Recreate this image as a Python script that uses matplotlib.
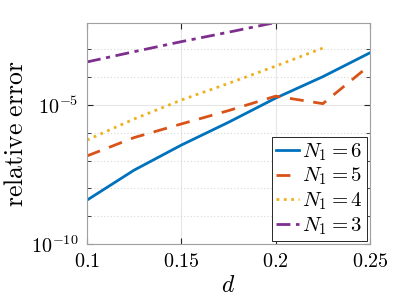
import numpy as np
import matplotlib.pyplot as plt
from matplotlib.ticker import FixedLocator, FuncFormatter, NullFormatter

plt.rcParams['mathtext.fontset'] = 'cm'
plt.rcParams['font.family'] = 'serif'
plt.rcParams['font.serif'] = ['DejaVu Serif']

# data
d = [0.1, 0.125, 0.15, 0.175, 0.2, 0.225, 0.25]
err_n6 = [10**-8.42, 10**-7.34, 10**-6.44, 10**-5.62, 10**-4.75, 10**-3.98, 10**-3.12]
err_n5 = [10**-6.83, 10**-6.17, 10**-5.68, 10**-5.2, 10**-4.68, 10**-4.95, 10**-3.56]
err_n4 = [10**-6.26, 10**-5.5, 10**-4.82, 10**-4.22, 10**-3.6, 10**-2.95]
err_n3 = [10**-3.45, 10**-3.08, 10**-2.72, 10**-2.38, 10**-2.03]

colors = ['#0072BD', '#D95319', '#EDB120', '#7E2F8E']

fig = plt.figure(figsize=(4.09, 3.07), dpi=100)
ax = fig.add_axes([0.2127, 0.205, 0.692, 0.72])

ax.semilogy(d, err_n6, '-', color=colors[0], lw=2, label=r'$N_1=6$')
ax.semilogy(d, err_n5, '--', color=colors[1], lw=2, dashes=(5, 3.5), label=r'$N_1=5$')
ax.semilogy(d[:6], err_n4, ':', color=colors[2], lw=2, label=r'$N_1=4$')
ax.semilogy(d[:5], err_n3, '-.', color=colors[3], lw=2, dashes=(5, 2, 1.5, 2), label=r'$N_1=3$')

ax.set_xlim(0.1, 0.25)
ax.set_ylim(1e-10, 10**-2.05)

ax.xaxis.set_major_locator(FixedLocator([0.1, 0.15, 0.2, 0.25]))
ax.xaxis.set_major_formatter(FuncFormatter(lambda v, p: '$%g$' % v))
ax.yaxis.set_major_locator(FixedLocator([1e-10, 1e-5]))
ax.yaxis.set_major_formatter(FuncFormatter(lambda v, p: r'$10^{%d}$' % round(np.log10(v))))
ax.yaxis.set_minor_locator(FixedLocator([10.0**k for k in range(-10, -1)]))
ax.yaxis.set_minor_formatter(NullFormatter())

ax.tick_params(which='both', direction='in', labelsize=14.5, color='#262626',
               top=True, right=True)
ax.tick_params(which='major', length=4, pad=6)
ax.tick_params(which='minor', length=3)

ax.grid(True, which='major', color='#e6e6e6', lw=0.8)
ax.grid(True, which='minor', axis='y', color='#d9d9d9', lw=0.8, linestyle=(0, (1, 2)))
ax.set_axisbelow(True)
for s in ax.spines.values():
    s.set_color('#a0a0a0')

ax.set_xlabel(r'$d$', fontsize=17, labelpad=2)
ax.set_ylabel(r'$\mathrm{relative\ error}$', fontsize=18.5, labelpad=2)

leg = ax.legend(loc='lower right', fontsize=15, handlelength=1.1, handletextpad=0.15,
                borderpad=0.2, labelspacing=0.15, borderaxespad=0.15, fancybox=False,
                framealpha=1, edgecolor='#262626')
leg.get_frame().set_linewidth(0.7)

fig.savefig('out.png', dpi=100)
